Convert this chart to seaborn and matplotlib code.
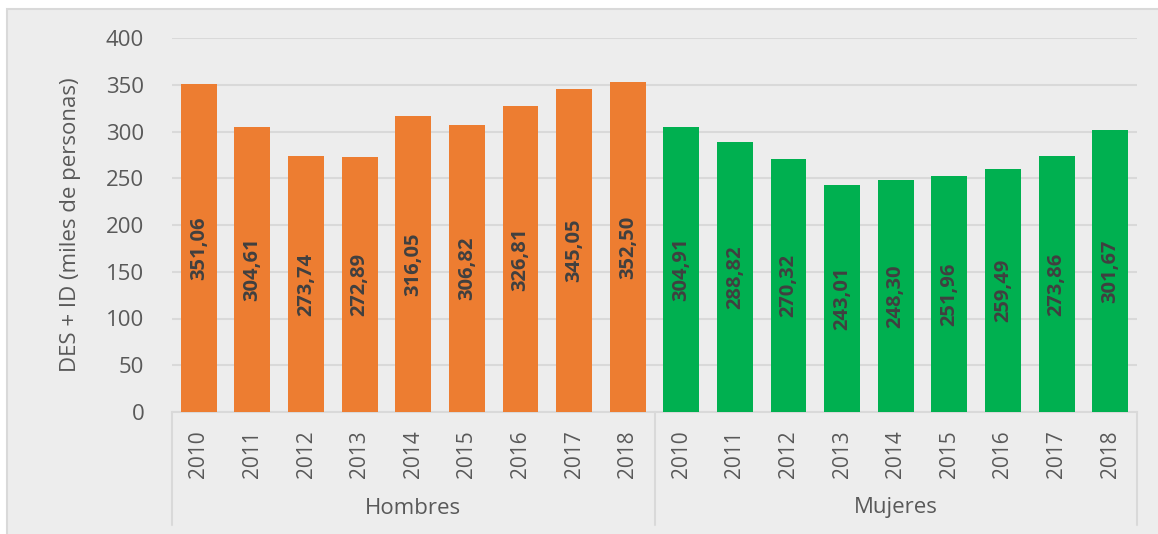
import matplotlib
matplotlib.use("Agg")
import matplotlib.pyplot as plt
import matplotlib.transforms as mtransforms
from matplotlib.patches import Rectangle
from matplotlib.lines import Line2D
import seaborn as sns
import pandas as pd

years = ["2010", "2011", "2012", "2013", "2014", "2015", "2016", "2017", "2018"]
groups = ["Hombres", "Mujeres"]
hombres = [351.06, 304.61, 273.74, 272.89, 316.05, 306.82, 326.81, 345.05, 352.50]
mujeres = [304.91, 288.82, 270.32, 243.01, 248.30, 251.96, 259.49, 273.86, 301.67]
y_ticks = [0, 50, 100, 150, 200, 250, 300, 350, 400]
y_label = "DES + ID (miles de personas)"

rows = []
for g, vals in zip(groups, [hombres, mujeres]):
    for yr, v in zip(years, vals):
        rows.append({"cat": f"{g} {yr}", "year": yr, "group": g, "value": v})
df = pd.DataFrame(rows)

sns.set_theme(style="white")
plt.rcParams["font.family"] = ["Open Sans", "DejaVu Sans"]

BG = "#EDEDED"
GRID = "#D9D9D9"
TXT = "#595959"
FS = 16

fig = plt.figure(figsize=(11.58, 5.34), dpi=100, facecolor="white")
bgrect = Rectangle((6.5 / 1158, -0.1), 1.2, 1.1 - 9 / 534, transform=fig.transFigure,
                   facecolor=BG, edgecolor=GRID, linewidth=1.5, zorder=-10)
fig.patches.append(bgrect)
ax = fig.add_axes([172 / 1158, 1 - 412 / 534, (1137 - 172) / 1158, (412 - 38) / 534])
ax.set_facecolor(BG)

sns.barplot(data=df, x="cat", y="value", hue="group",
            palette={"Hombres": "#ED7D31", "Mujeres": "#00B050"},
            dodge=False, width=0.67, legend=False, ax=ax, zorder=3, saturation=1,
            linewidth=0, edgecolor="none")

for cont, vals in zip(ax.containers, [hombres, mujeres]):
    ax.bar_label(cont, labels=[f"{v:.2f}".replace(".", ",") for v in vals],
                 label_type="center", rotation=90, fontsize=14.5, fontweight="bold",
                 color="#404040")

ax.set_ylim(0, 400)
ax.set_xlim(-0.5, len(df) - 0.5)
ax.set_yticks(y_ticks)
ax.set_yticklabels([str(t) for t in y_ticks], fontsize=FS, color=TXT)
ax.yaxis.grid(True, color=GRID, linewidth=1.5, zorder=0)
ax.set_axisbelow(True)
ax.set_xticks(range(len(df)))
ax.set_xticklabels(df["year"], rotation=90, fontsize=15, color=TXT)
ax.tick_params(axis="x", length=0, pad=13)
ax.tick_params(axis="y", length=0, pad=20)
ax.set_xlabel("")
ax.set_ylabel(y_label, fontsize=FS, color=TXT, labelpad=18)
for s in ["top", "right", "left"]:
    ax.spines[s].set_visible(False)
ax.spines["bottom"].set_color(GRID)
ax.spines["bottom"].set_linewidth(1.5)

trans = mtransforms.blended_transform_factory(ax.transData, fig.transFigure)
for i, g in enumerate(groups):
    ax.text(i * 9 + 4, 1 - 508 / 534, g, transform=trans, ha="center", va="center",
            fontsize=FS, color=TXT)
for xpos in [-0.5, 8.5, 17.5]:
    ax.add_line(Line2D([xpos, xpos], [1 - 412 / 534, 1 - 525 / 534], transform=trans,
                       color=GRID, linewidth=1.5, clip_on=False))

fig.savefig("out.png", dpi=100, facecolor="white")
